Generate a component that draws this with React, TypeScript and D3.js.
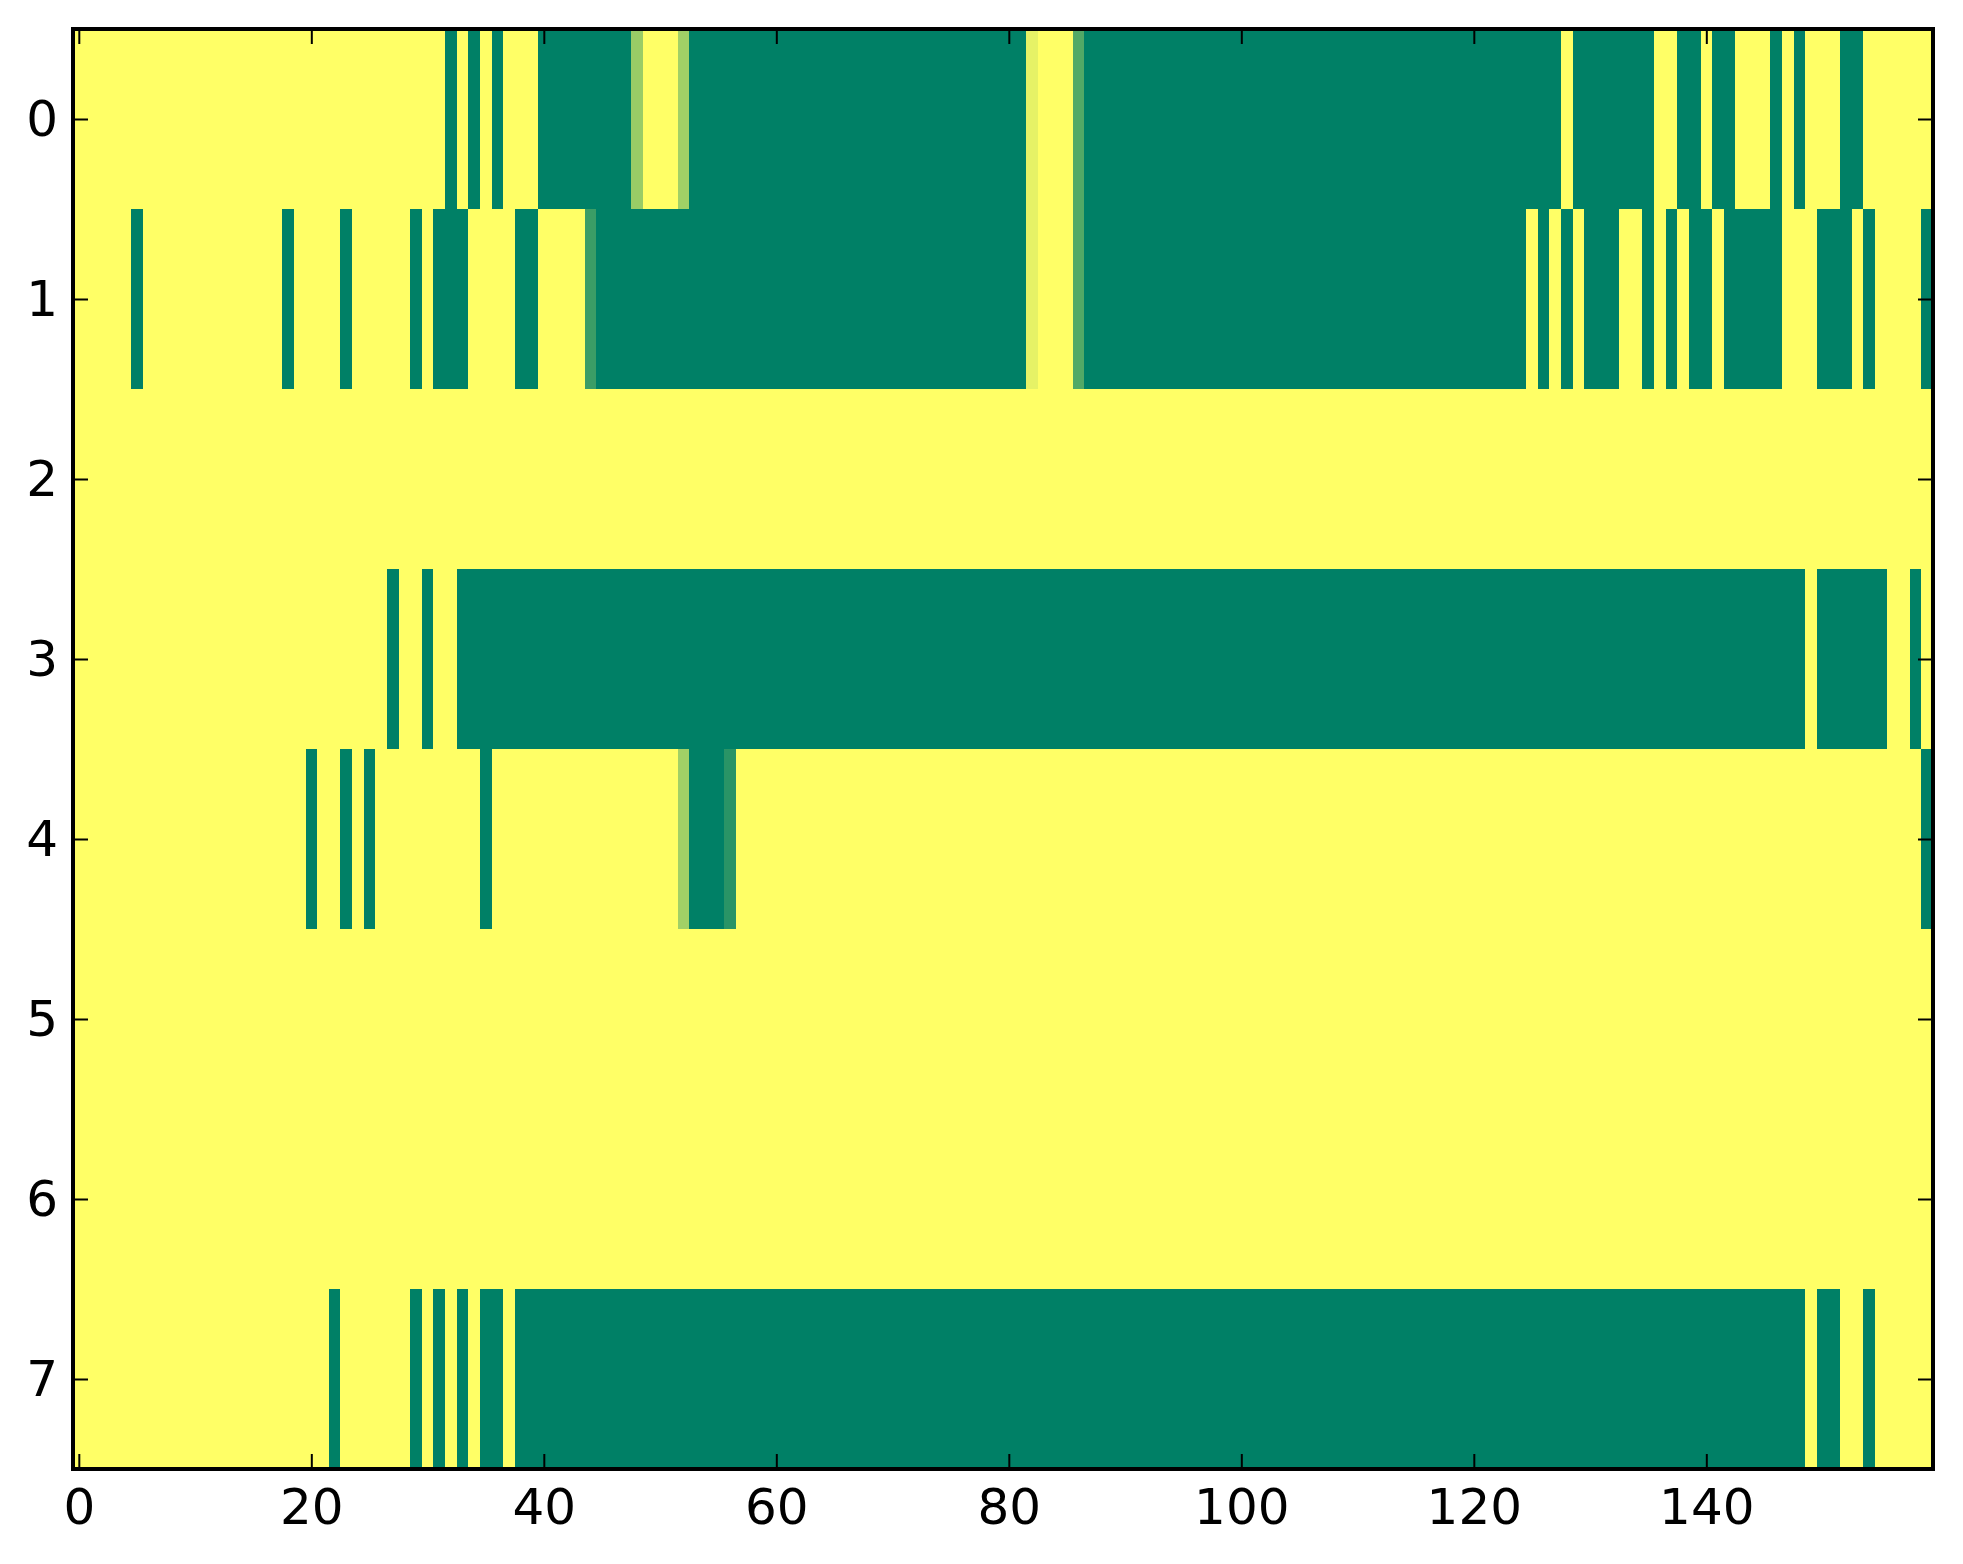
import React, { useRef, useEffect } from 'react';
import * as d3 from 'd3';

// each row of the image, written in groups of 10 columns (160 columns total)
// '0' = low (green), '1' = high (yellow), letters = in-between levels
const row0 = ['1111111111', '1111111111', '1111111111', '1101010111', '00000000a1', '11b0000000', '0000000000', '0000000000',
    '00d111e000', '0000000000', '0000000000', '0000000000', '0000000010', '0000001100', '1001110101', '1100111111'];
const row1 = ['1111101111', '1111111101', '1110111110', '1000111100', '1111c00000', '0000000000', '0000000000', '0000000000',
    '00d111e000', '0000000000', '0000000000', '0000000000', '0000010101', '0001101010', '0100000111', '0001011110'];
const row2 = ['1111111111', '1111111111', '1111111111', '1111111111', '1111111111', '1111111111', '1111111111', '1111111111',
    '1111111111', '1111111111', '1111111111', '1111111111', '1111111111', '1111111111', '1111111111', '1111111111'];
const row3 = ['1111111111', '1111111111', '1111111011', '0110000000', '0000000000', '0000000000', '0000000000', '0000000000',
    '0000000000', '0000000000', '0000000000', '0000000000', '0000000000', '0000000000', '0000000001', '0000001101'];
const row4 = ['1111111111', '1111111111', '0110101111', '1111101111', '1111111111', '11b000f111', '1111111111', '1111111111',
    '1111111111', '1111111111', '1111111111', '1111111111', '1111111111', '1111111111', '1111111111', '1111111110'];
const row5 = ['1111111111', '1111111111', '1111111111', '1111111111', '1111111111', '1111111111', '1111111111', '1111111111',
    '1111111111', '1111111111', '1111111111', '1111111111', '1111111111', '1111111111', '1111111111', '1111111111'];
const row6 = ['1111111111', '1111111111', '1111111111', '1111111111', '1111111111', '1111111111', '1111111111', '1111111111',
    '1111111111', '1111111111', '1111111111', '1111111111', '1111111111', '1111111111', '1111111111', '1111111111'];
const row7 = ['1111111111', '1111111111', '1101111110', '1010100100', '0000000000', '0000000000', '0000000000', '0000000000',
    '0000000000', '0000000000', '0000000000', '0000000000', '0000000000', '0000000000', '0000000001', '0011011111'];

const rows = [row0, row1, row2, row3, row4, row5, row6, row7];

const levelValues: Record<string, number> = {
    '0': 0, '1': 1, a: 0.6, b: 0.63, c: 0.23, d: 0.9, e: 0.32, f: 0.16,
};

const xTicks = [0, 20, 40, 60, 80, 100, 120, 140];
const yTicks = [0, 1, 2, 3, 4, 5, 6, 7];

const App: React.FC = () => {
    const svgRef = useRef<SVGSVGElement | null>(null);

    useEffect(() => {
        document.body.style.margin = '0';
        const svg = d3.select(svgRef.current);
        svg.selectAll('*').remove();

        const W = 1963;
        const H = 1564;
        const margin = { top: 29, right: 30, bottom: 95, left: 73 };

        const grid = rows.map(r => r.join('').split('').map(ch => levelValues[ch]));
        const nRows = grid.length;
        const nCols = grid[0].length;

        const x = d3.scaleLinear().domain([-0.5, nCols - 0.5]).range([margin.left, W - margin.right]);
        const y = d3.scaleLinear().domain([-0.5, nRows - 0.5]).range([margin.top, H - margin.bottom]);
        const color = d3.scaleLinear<string>().domain([0, 1]).range(['#008066', '#ffff66']).interpolate(d3.interpolateRgb);

        svg.append('rect').attr('width', W).attr('height', H).attr('fill', '#ffffff');

        const cells = grid.flatMap((row, r) => row.map((v, c) => ({ r, c, v })));
        svg.append('g')
            .selectAll('rect')
            .data(cells)
            .join('rect')
            .attr('x', d => x(d.c - 0.5))
            .attr('y', d => y(d.r - 0.5))
            .attr('width', d => x(d.c + 0.5) - x(d.c - 0.5) + 0.6)
            .attr('height', d => y(d.r + 0.5) - y(d.r - 0.5) + 0.6)
            .attr('fill', d => color(d.v))
            .attr('shape-rendering', 'crispEdges');

        const [x0, x1] = x.range();
        const [y0, y1] = y.range();

        const styleAxis = (g: any) => {
            g.select('.domain').remove();
            g.selectAll('line').attr('stroke', '#000').attr('stroke-width', 2);
            g.attr('font-size', 50).attr('font-family', "'DejaVu Sans', sans-serif");
            g.selectAll('text').attr('fill', '#000');
        };

        svg.append('g')
            .attr('transform', `translate(0,${y1})`)
            .call(d3.axisBottom(x).tickValues(xTicks).tickSize(-15).tickPadding(19).tickFormat(d3.format('d')))
            .call(styleAxis);
        svg.append('g')
            .attr('transform', `translate(0,${y0})`)
            .call(d3.axisTop(x).tickValues(xTicks).tickSize(-15).tickFormat(() => ''))
            .call(styleAxis);
        svg.append('g')
            .attr('transform', `translate(${x0},0)`)
            .call(d3.axisLeft(y).tickValues(yTicks).tickSize(-15).tickPadding(15).tickFormat(d3.format('d')))
            .call(styleAxis);
        svg.append('g')
            .attr('transform', `translate(${x1},0)`)
            .call(d3.axisRight(y).tickValues(yTicks).tickSize(-15).tickFormat(() => ''))
            .call(styleAxis);

        svg.append('rect')
            .attr('x', x0)
            .attr('y', y0)
            .attr('width', x1 - x0)
            .attr('height', y1 - y0)
            .attr('fill', 'none')
            .attr('stroke', '#000')
            .attr('stroke-width', 4);
    }, []);

    return <svg ref={svgRef} width="1963" height="1564" style={{ display: 'block' }} />;
};

export default App;
